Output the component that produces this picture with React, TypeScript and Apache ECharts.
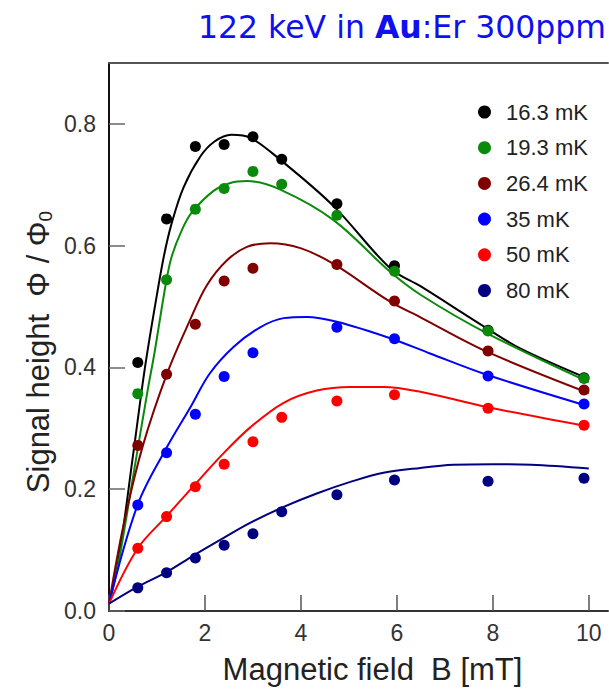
import React, { useEffect, useRef } from "react";
import * as echarts from "echarts";

// Field values (mT) at which the data points were measured
const fieldB = [0.6, 1.2, 1.8, 2.4, 3.0, 3.6, 4.75, 5.95, 7.9, 9.9];

// Measured signal heights (Φ/Φ0); null = no point
const pts163 = [0.408, 0.644, 0.763, 0.766, 0.779, 0.742, 0.669, 0.567, 0.461, 0.383];
const pts193 = [0.357, 0.544, 0.66, 0.694, 0.722, 0.701, 0.65, 0.558, 0.46, 0.382];
const pts264 = [0.272, 0.389, 0.471, 0.542, 0.563, null, 0.569, 0.509, 0.427, 0.363];
const pts35 = [0.174, 0.26, 0.323, 0.385, 0.424, null, 0.466, 0.447, 0.386, 0.34];
const pts50 = [0.103, 0.155, 0.204, 0.241, 0.278, 0.318, 0.345, 0.355, 0.333, 0.305];
const pts80 = [0.038, 0.063, 0.087, 0.108, 0.127, 0.163, 0.191, 0.215, 0.213, 0.218];

// Fitted curves: [B, value]
const fit163 = [[0, 0.012], [0.2, 0.085], [0.5, 0.255], [0.75, 0.4], [1.0, 0.52], [1.15, 0.585], [1.3, 0.635], [1.55, 0.695], [1.9, 0.746], [2.2, 0.771], [2.55, 0.782], [2.95, 0.777], [3.57, 0.741], [4.68, 0.665], [5.86, 0.563], [6.5, 0.533], [7.88, 0.464], [8.6, 0.43], [10, 0.381]];
const fit193 = [[0, 0.012], [0.2, 0.08], [0.5, 0.22], [0.8, 0.36], [0.95, 0.425], [1.19, 0.54], [1.31, 0.583], [1.52, 0.626], [1.73, 0.655], [2.18, 0.69], [2.53, 0.703], [2.88, 0.706], [3.57, 0.692], [4.68, 0.642], [5.86, 0.557], [6.5, 0.519], [7.88, 0.456], [10, 0.376]];
const fit264 = [[0, 0.012], [0.3, 0.14], [0.7, 0.27], [1.21, 0.39], [1.69, 0.478], [2.04, 0.535], [2.46, 0.576], [2.875, 0.598], [3.36, 0.604], [3.99, 0.596], [4.68, 0.57], [5.86, 0.508], [6.5, 0.482], [7.875, 0.426], [10, 0.358]];
const fit35 = [[0, 0.012], [0.6, 0.175], [1.2, 0.268], [1.7, 0.335], [2.1, 0.39], [2.6, 0.434], [3.15, 0.466], [3.64, 0.481], [4.12, 0.483], [4.75, 0.475], [5.86, 0.448], [6.69, 0.423], [7.875, 0.388], [10, 0.336]];
const fit50 = [[0, 0.012], [0.6, 0.103], [1.19, 0.155], [1.76, 0.205], [2.35, 0.256], [2.95, 0.302], [3.64, 0.342], [4.33, 0.362], [5.03, 0.368], [5.72, 0.368], [6.49, 0.36], [7.875, 0.335], [10, 0.303]];
const fit80 = [[0, 0.012], [0.6, 0.04], [1.2, 0.064], [1.76, 0.091], [2.39, 0.12], [2.95, 0.145], [3.64, 0.171], [4.33, 0.193], [5.03, 0.212], [5.72, 0.227], [6.49, 0.235], [7.18, 0.24], [8.0, 0.241], [8.8, 0.24], [10, 0.234]];

const seriesNames = ["16.3 mK", "19.3 mK", "26.4 mK", "35 mK", "50 mK", "80 mK"];
const seriesColors = ["#000000", "#0a8a0a", "#800000", "#0000ff", "#ff0000", "#000080"];
const pointSets = [pts163, pts193, pts264, pts35, pts50, pts80];
const fitSets = [fit163, fit193, fit264, fit35, fit50, fit80];

const xTicks = [0, 2, 4, 6, 8, 10];
const yTicks = [0, 0.2, 0.4, 0.6, 0.8];

const FONT = "'Liberation Sans', Arial, Helvetica, sans-serif";

export default function App() {
  const ref = useRef<HTMLDivElement>(null);
  useEffect(() => {
    if (!ref.current) return;
    const chart = echarts.init(ref.current, undefined, { renderer: "svg" });

    const lineSeries = fitSets.map((f, i) => ({
      type: "line",
      name: seriesNames[i] + " fit",
      data: f,
      smooth: 0.35,
      showSymbol: false,
      symbol: "none",
      lineStyle: { color: seriesColors[i], width: 2 },
      z: 2,
    }));
    const scatterSeries = pointSets.map((p, i) => ({
      type: "scatter",
      name: seriesNames[i],
      data: p
        .map((v, j) => (v === null ? null : [fieldB[j], v]))
        .filter((d) => d !== null),
      symbol: "circle",
      symbolSize: 11,
      itemStyle: { color: seriesColors[i], opacity: 1 },
      z: 3,
    }));

    chart.setOption({
      animation: false,
      backgroundColor: "#ffffff",
      grid: { left: 109, right: 1, top: 63, bottom: 80, containLabel: false },
      legend: {
        data: seriesNames,
        orient: "vertical",
        left: 473,
        top: 96,
        icon: "circle",
        itemWidth: 13,
        itemHeight: 13,
        itemGap: 13.7,
        itemStyle: { opacity: 1 },
        textStyle: {
          fontFamily: FONT,
          fontSize: 22,
          lineHeight: 21,
          color: "#222",
          padding: [0, 0, 0, 10],
        },
      },
      xAxis: [
        {
          type: "value",
          min: 0,
          max: 10.4,
          interval: 2,
          name: "Magnetic field  B [mT]",
          nameLocation: "middle",
          nameGap: 43,
          nameTextStyle: { fontFamily: FONT, fontSize: 31, color: "#222", padding: [0, 0, 0, 28] },
          axisLine: { show: true, lineStyle: { color: "#333", width: 2 } },
          axisTick: {
            show: true,
            inside: true,
            length: 16,
            customValues: xTicks,
            lineStyle: { color: "#555", width: 1.5 },
          },
          axisLabel: {
            customValues: xTicks,
            fontFamily: FONT,
            fontSize: 23,
            color: "#333",
            margin: 10,
          },
          splitLine: { show: false },
        },
        {
          type: "value",
          position: "top",
          min: 0,
          max: 10.4,
          axisLine: { show: true, lineStyle: { color: "#555", width: 2 } },
          axisTick: { show: false },
          axisLabel: { show: false },
          splitLine: { show: false },
        },
      ],
      yAxis: {
        type: "value",
        min: 0,
        max: 0.9,
        interval: 0.2,
        axisLine: { show: true, lineStyle: { color: "#111", width: 2 } },
        axisTick: {
          show: true,
          inside: true,
          length: 16,
          customValues: yTicks,
          lineStyle: { color: "#666", width: 1.5 },
        },
        axisLabel: {
          customValues: yTicks,
          formatter: (v: number) => v.toFixed(1),
          fontFamily: FONT,
          fontSize: 23,
          color: "#333",
          margin: 13,
        },
        splitLine: { show: false },
      },
      graphic: [
        {
          type: "text",
          x: 38,
          y: 352,
          rotation: Math.PI / 2,
          z: 10,
          style: {
            text: "Signal height  Φ / Φ{sub|0}",
            fontFamily: FONT,
            fontSize: 31,
            fill: "#222",
            textAlign: "center",
            textVerticalAlign: "middle",
            rich: {
              sub: { fontFamily: FONT, fontSize: 19, fill: "#222", color: "#222", verticalAlign: "bottom", padding: [14, 0, 0, 0] },
            },
          },
        },
        {
          type: "text",
          x: 606,
          y: 27,
          z: 10,
          style: {
            text: "122 keV in {b|Au}:Er 300ppm",
            fontFamily: "'DejaVu Sans', sans-serif",
            fontSize: 31.5,
            fill: "#1010ee",
            textAlign: "right",
            textVerticalAlign: "middle",
            rich: {
              b: { fontFamily: "'DejaVu Sans', sans-serif", fontSize: 31.5, fontWeight: "bold", fill: "#1010ee", color: "#1010ee" },
            },
          },
        },
        {
          type: "rect",
          z: 11,
          shape: { x: 180, y: 44, width: 429, height: 17 },
          style: { fill: "#ffffff" },
        },
      ],
      series: [...lineSeries, ...scatterSeries],
    });
    return () => chart.dispose();
  }, []);
  return (
    <div
      ref={ref}
      style={{ position: "fixed", left: 0, top: 0, width: 609, height: 691, background: "#fff" }}
    />
  );
}
